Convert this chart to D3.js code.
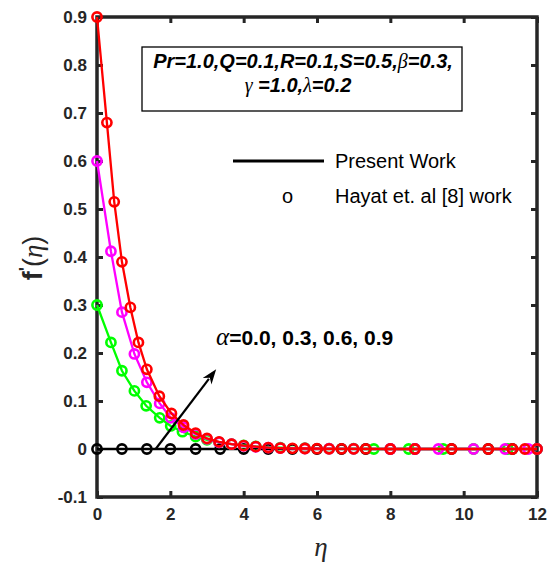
<!DOCTYPE html>
<html>
<head>
<meta charset="utf-8">
<script src="https://cdn.jsdelivr.net/npm/d3@7"></script>
<style>
  body { margin: 0; background: #fff; }
  svg { display: block; }
</style>
</head>
<body>
<div id="chart"></div>
<script>
// eta mesh and f'(eta) for each alpha
var alphaNames = ["0.0", "0.3", "0.6", "0.9"];
var seriesColors = ["#000000", "#00ff00", "#ff00ff", "#ff0000"];

var etaA0 = [0, 0.68, 1.36, 2.0, 2.69, 3.36, 4.0, 4.67, 5.33, 6.0, 6.67, 7.33, 8.0, 8.67, 9.67, 10.67, 11.33, 12.0];
var fA0   = [0, 0, 0, 0, 0, 0, 0, 0, 0, 0, 0, 0, 0, 0, 0, 0, 0, 0];

var etaA3 = [0, 0.38, 0.68, 1.02, 1.34, 1.71, 2.01, 2.33, 2.69, 3.0, 3.33, 3.67, 4.0, 4.33, 5.0, 5.67, 6.33, 7.0, 7.55, 8.5, 9.44, 10.27, 11.2, 12.0];
var fA3   = [0.3, 0.222, 0.163, 0.121, 0.09, 0.065, 0.048, 0.036, 0.026, 0.019, 0.014, 0.01, 0.0075, 0.0055, 0.003, 0.0016, 0.0009, 0.0005, 0, 0, 0, 0, 0, 0];

var etaA6 = [0, 0.38, 0.68, 1.02, 1.36, 1.71, 2.01, 2.36, 2.69, 3.0, 3.33, 3.67, 4.0, 4.33, 4.67, 5.0, 5.67, 6.33, 7.0, 8.0, 8.67, 9.31, 10.27, 11.13, 11.76, 12.0];
var fA6   = [0.6, 0.412, 0.285, 0.198, 0.139, 0.095, 0.065, 0.045, 0.031, 0.021, 0.014, 0.01, 0.0065, 0.0045, 0.003, 0.002, 0.001, 0.0006, 0.0003, 0, 0, 0, 0, 0, 0, 0];

var etaA9 = [0, 0.27, 0.47, 0.68, 0.91, 1.13, 1.36, 1.7, 2.03, 2.36, 2.69, 3.0, 3.33, 3.67, 4.0, 4.33, 4.67, 5.0, 5.33, 5.67, 6.0, 6.33, 6.67, 7.0, 7.33, 8.0, 8.67, 9.67, 10.67, 11.33, 11.67, 12.0];
var fA9   = [0.9, 0.68, 0.515, 0.39, 0.295, 0.222, 0.166, 0.11, 0.074, 0.05, 0.033, 0.022, 0.015, 0.01, 0.007, 0.005, 0.003, 0.002, 0.0014, 0.001, 0.0006, 0.0004, 0.0003, 0.0002, 0.0001, 0, 0, 0, 0, 0, 0, 0];

var xTicks = [0, 2, 4, 6, 8, 10, 12];
var yTicks = [-0.1, 0, 0.1, 0.2, 0.3, 0.4, 0.5, 0.6, 0.7, 0.8, 0.9];

var W = 548, H = 562;
var margin = {left: 97, right: 11, top: 17, bottom: 65};
var axisColor = "#262626";

var svg = d3.select('#chart').append('svg')
  .attr('width', W)
  .attr('height', H);

var x = d3.scaleLinear().domain([0, 12]).range([margin.left, W - margin.right]);
var y = d3.scaleLinear().domain([-0.1, 0.9]).range([H - margin.bottom, margin.top]);

var fmtY = function(d){
  if (Math.abs(d) < 1e-9) return "0";
  return (d < 0 ? "-" : "") + Math.abs(d).toFixed(1);
};

// axes (ticks pointing in, like matlab)
var gx = svg.append('g')
  .attr('transform', 'translate(0,' + y(-0.1) + ')')
  .call(d3.axisBottom(x).tickValues(xTicks).tickSizeInner(-6).tickSizeOuter(0).tickPadding(11).tickFormat(d3.format('d')));
var gxTop = svg.append('g')
  .attr('transform', 'translate(0,' + y(0.9) + ')')
  .call(d3.axisTop(x).tickValues(xTicks).tickSizeInner(-6).tickSizeOuter(0).tickFormat(''));
var gy = svg.append('g')
  .attr('transform', 'translate(' + x(0) + ',0)')
  .call(d3.axisLeft(y).tickValues(yTicks).tickSizeInner(-6).tickSizeOuter(0).tickPadding(10).tickFormat(fmtY));
var gyRight = svg.append('g')
  .attr('transform', 'translate(' + x(12) + ',0)')
  .call(d3.axisRight(y).tickValues(yTicks).tickSizeInner(-6).tickSizeOuter(0).tickFormat(''));

[gx, gxTop, gy, gyRight].forEach(function(g){
  g.select('.domain').remove();
  g.selectAll('.tick line').attr('stroke', axisColor).attr('stroke-width', 3);
  g.selectAll('.tick text')
    .attr('fill', axisColor)
    .style('font-family', '"Liberation Sans", Arial, sans-serif')
    .style('font-weight', 'bold')
    .style('font-size', '17px');
});

svg.append('rect')
  .attr('x', x(0))
  .attr('y', y(0.9))
  .attr('width', x(12) - x(0))
  .attr('height', y(-0.1) - y(0.9))
  .attr('fill', 'none')
  .attr('stroke', axisColor)
  .attr('stroke-width', 3.5);

// series
var allSeries = [
  {eta: etaA0, f: fA0},
  {eta: etaA3, f: fA3},
  {eta: etaA6, f: fA6},
  {eta: etaA9, f: fA9}
];

var line = d3.line()
  .x(function(d){ return x(d[0]); })
  .y(function(d){ return y(d[1]); });

allSeries.forEach(function(s, i){
  var pts = d3.zip(s.eta, s.f);
  svg.append('path')
    .datum(pts)
    .attr('d', line)
    .attr('fill', 'none')
    .attr('stroke', seriesColors[i])
    .attr('stroke-width', 2.3);
  svg.selectAll('.mk' + i)
    .data(pts)
    .enter()
    .append('circle')
    .attr('class', 'mk' + i)
    .attr('cx', function(d){ return x(d[0]); })
    .attr('cy', function(d){ return y(d[1]); })
    .attr('r', 4.6)
    .attr('fill', 'none')
    .attr('stroke', seriesColors[i])
    .attr('stroke-width', 2.6);
});

// axis labels
svg.append('text')
  .attr('x', 321)
  .attr('y', 556)
  .attr('text-anchor', 'middle')
  .style('font-family', '"Liberation Serif", "Times New Roman", serif')
  .style('font-style', 'italic')
  .style('font-size', '27px')
  .attr('fill', axisColor)
  .text('η');

var ylab = svg.append('text')
  .attr('transform', 'translate(42,258) rotate(-90)')
  .attr('text-anchor', 'middle')
  .attr('fill', axisColor)
  .style('font-family', '"Liberation Sans", Arial, sans-serif')
  .style('font-size', '27px');
ylab.append('tspan').style('font-weight', 'bold').text('f');
ylab.append('tspan').attr('dy', -10).style('font-weight', 'bold').style('font-size', '18px').text("'");
ylab.append('tspan').attr('dy', 10).text('(');
ylab.append('tspan')
  .style('font-family', '"Liberation Serif", "Times New Roman", serif')
  .style('font-style', 'italic')
  .text('η');
ylab.append('tspan').text(')');

// parameter box
svg.append('rect')
  .attr('x', 142).attr('y', 47)
  .attr('width', 320).attr('height', 64)
  .attr('fill', '#fff')
  .attr('stroke', '#000')
  .attr('stroke-width', 1.3);

var sansBI = function(t){
  t.style('font-family', '"Liberation Sans", Arial, sans-serif')
   .style('font-weight', 'bold')
   .style('font-style', 'italic')
   .style('font-size', '20px');
};
var greek = function(ts){
  ts.style('font-family', '"Liberation Serif", "Times New Roman", serif')
    .style('font-weight', 'normal')
    .style('font-style', 'italic');
};

var p1 = svg.append('text').attr('x', 303).attr('y', 68).attr('text-anchor', 'middle').call(sansBI);
p1.append('tspan').text('Pr=1.0,Q=0.1,R=0.1,S=0.5,');
p1.append('tspan').call(greek).text('β');
p1.append('tspan').text('=0.3,');

var p2 = svg.append('text').attr('x', 298).attr('y', 92).attr('text-anchor', 'middle').call(sansBI);
p2.append('tspan').call(greek).text('γ');
p2.append('tspan').text(' =1.0,');
p2.append('tspan').call(greek).text('λ');
p2.append('tspan').text('=0.2');

// legend
svg.append('line')
  .attr('x1', 233).attr('x2', 324)
  .attr('y1', 161).attr('y2', 161)
  .attr('stroke', '#000')
  .attr('stroke-width', 3);
svg.append('text')
  .attr('x', 335).attr('y', 168)
  .style('font-family', '"Liberation Sans", Arial, sans-serif')
  .style('font-size', '20px')
  .attr('fill', '#000')
  .text('Present Work');
svg.append('text')
  .attr('x', 282).attr('y', 203)
  .style('font-family', '"Liberation Sans", Arial, sans-serif')
  .style('font-size', '20px')
  .text('o');
svg.append('text')
  .attr('x', 335).attr('y', 203)
  .style('font-family', '"Liberation Sans", Arial, sans-serif')
  .style('font-size', '20px')
  .text('Hayat et. al [8] work');

// alpha annotation + arrow
var ann = svg.append('text')
  .attr('x', 216).attr('y', 345)
  .style('font-family', '"Liberation Sans", Arial, sans-serif')
  .style('font-weight', 'bold')
  .style('font-size', '21px');
ann.append('tspan').call(greek).style('font-size', '25px').text('α');
ann.append('tspan').text('=' + alphaNames.join(', '));

var ax0 = 1.6, ay0 = 0, ax1 = 3.25, ay1 = 0.166;
var sx = x(ax0), sy = y(ay0), ex = x(ax1), ey = y(ay1);
var ang = Math.atan2(ey - sy, ex - sx);
var hl = 15, hw = 5.5;
svg.append('line')
  .attr('x1', sx).attr('y1', sy)
  .attr('x2', ex - hl * Math.cos(ang) * 0.8).attr('y2', ey - hl * Math.sin(ang) * 0.8)
  .attr('stroke', '#000')
  .attr('stroke-width', 2.2);
var bx = ex - hl * Math.cos(ang), by = ey - hl * Math.sin(ang);
svg.append('path')
  .attr('d', 'M' + ex + ',' + ey +
    'L' + (bx + hw * Math.sin(ang)) + ',' + (by - hw * Math.cos(ang)) +
    'L' + (ex - hl * 0.7 * Math.cos(ang)) + ',' + (ey - hl * 0.7 * Math.sin(ang)) +
    'L' + (bx - hw * Math.sin(ang)) + ',' + (by + hw * Math.cos(ang)) + 'Z')
  .attr('fill', '#000');
</script>
</body>
</html>
